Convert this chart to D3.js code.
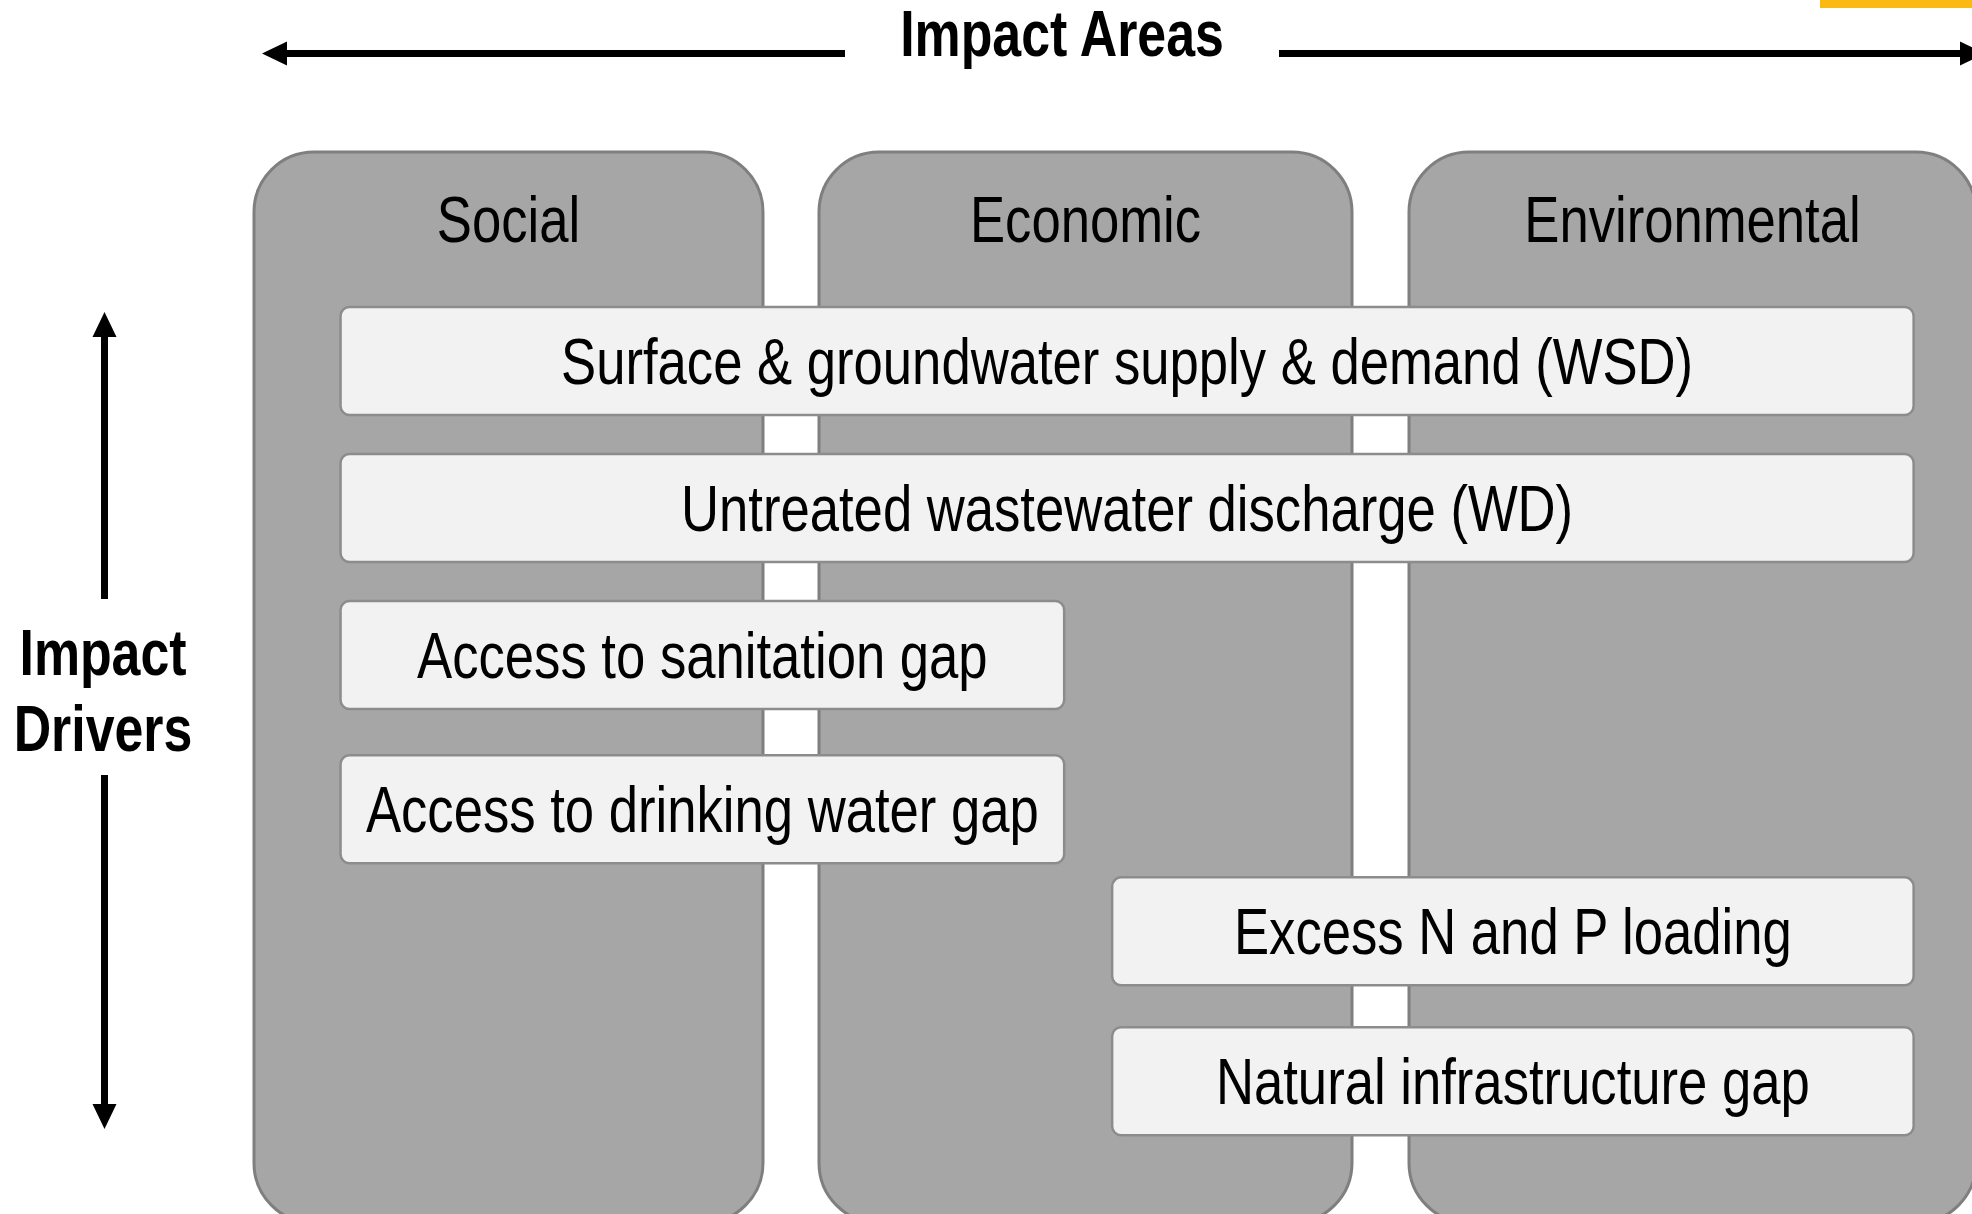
<!DOCTYPE html>
<html>
<head>
<meta charset="utf-8">
<script src="https://cdn.jsdelivr.net/npm/d3@7"></script>
<style>
  html, body { margin: 0; padding: 0; background: #fff; }
  svg { display: block; }
</style>
</head>
<body>
<div id="chart"></div>
<script>
// Impact areas (columns) and impact drivers (rows)
const areas = ["Social", "Economic", "Environmental"];

const drivers = [
  "Surface & groundwater supply & demand (WSD)",
  "Untreated wastewater discharge (WD)",
  "Access to sanitation gap",
  "Access to drinking water gap",
  "Excess N and P loading",
  "Natural infrastructure gap"
];
// span of each driver box in grid units (column i covers [2i, 2i+1])
const driverStart = [0.17, 0.17, 0.17, 0.17, 2.55, 2.55];
const driverEnd = [4.89, 4.89, 2.46, 2.46, 4.89, 4.89];
// row position of each driver box
const driverRow = [0, 1, 2, 3.05, 3.88, 4.9];

const width = 1972;
const height = 1214;

const svg = d3.select("#chart")
  .append("svg")
  .attr("width", width)
  .attr("height", height);

// x: column edges with gaps between them
const xScale = d3.scaleLinear()
  .domain([0, 1, 2, 3, 4, 5])
  .range([254, 763, 819, 1352, 1409, 1976]);

const yScale = d3.scaleLinear()
  .domain([0, 1])
  .range([307, 454]);

const rowHeight = 108;

// no narrow font installed, so squeeze the regular one horizontally
const squeeze = 0.81;
const fontFamily = "'Liberation Sans', Arial, sans-serif";

function label(g, txt, x, y, size, weight) {
  g.append("text")
    .attr("transform", `translate(${x},${y}) scale(${squeeze},1)`)
    .attr("text-anchor", "middle")
    .style("font-family", fontFamily)
    .style("font-size", size + "px")
    .style("font-weight", weight || "normal")
    .style("fill", "#000")
    .text(txt);
}

// orange accent at the top right
svg.append("rect")
  .attr("x", 1820)
  .attr("y", -2)
  .attr("width", 170)
  .attr("height", 10)
  .attr("fill", "#fdb913");

// area columns (run past the bottom edge)
svg.selectAll(".area")
  .data(areas)
  .enter()
  .append("rect")
  .attr("class", "area")
  .attr("x", (d, i) => xScale(2 * i))
  .attr("y", 152)
  .attr("width", (d, i) => xScale(2 * i + 1) - xScale(2 * i))
  .attr("height", 1071)
  .attr("rx", 60)
  .attr("ry", 60)
  .attr("fill", "#a6a6a6")
  .attr("stroke", "#7f7f7f")
  .attr("stroke-width", 3);

areas.forEach((a, i) => {
  label(svg, a, (xScale(2 * i) + xScale(2 * i + 1)) / 2, 242, 65);
});

// driver boxes
drivers.forEach((d, i) => {
  const x0 = xScale(driverStart[i]);
  const x1 = xScale(driverEnd[i]);
  const y0 = yScale(driverRow[i]);
  svg.append("rect")
    .attr("class", "driver")
    .attr("x", x0)
    .attr("y", y0)
    .attr("width", x1 - x0)
    .attr("height", rowHeight)
    .attr("rx", 9)
    .attr("ry", 9)
    .attr("fill", "#f2f2f2")
    .attr("stroke", "#8c8c8c")
    .attr("stroke-width", 2.5);
  label(svg, d, (x0 + x1) / 2, y0 + rowHeight / 2 + 23, 65);
});

// arrows
function arrow(x1, y1, x2, y2) {
  const ang = Math.atan2(y2 - y1, x2 - x1);
  const headLen = 25, headW = 12;
  const bx = x2 - headLen * Math.cos(ang), by = y2 - headLen * Math.sin(ang);
  svg.append("line")
    .attr("x1", x1).attr("y1", y1)
    .attr("x2", bx).attr("y2", by)
    .attr("stroke", "#000")
    .attr("stroke-width", 7);
  const px = -Math.sin(ang) * headW, py = Math.cos(ang) * headW;
  svg.append("path")
    .attr("d", `M${x2},${y2}L${bx + px},${by + py}L${bx - px},${by - py}Z`)
    .attr("fill", "#000");
}

arrow(845, 53.5, 262, 53.5);
arrow(1279, 53.5, 1985, 53.5);
arrow(104.5, 599, 104.5, 312);
arrow(104.5, 775, 104.5, 1129);

label(svg, "Impact Areas", 1062, 56, 64, "bold");
label(svg, "Impact", 103, 675, 64, "bold");
label(svg, "Drivers", 103, 751, 64, "bold");
</script>
</body>
</html>
